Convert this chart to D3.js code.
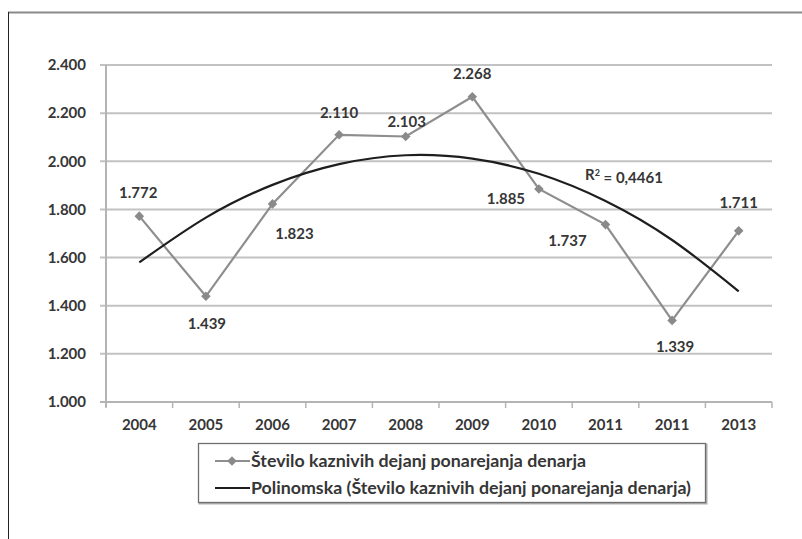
<!DOCTYPE html>
<html>
<head>
<meta charset="utf-8">
<script src="https://cdn.jsdelivr.net/npm/d3@7"></script>
<style>
  html, body { margin: 0; padding: 0; background: #ffffff; }
  svg { display: block; }
  text { font-family: Lato, "Liberation Sans", sans-serif; font-weight: 700; fill: #363636; }
</style>
</head>
<body>
<div id="chart"></div>
<script>
// ---- data ----
const categories = ["2004", "2005", "2006", "2007", "2008", "2009", "2010", "2011", "2011", "2013"];
const seriesValues = [1772, 1439, 1823, 2110, 2103, 2268, 1885, 1737, 1339, 1711];
const trendValues = [1580, 1766, 1902, 1988, 2025, 2011, 1948, 1835, 1673, 1460];
const yTicks = [1000, 1200, 1400, 1600, 1800, 2000, 2200, 2400];
const seriesName = "Število kaznivih dejanj ponarejanja denarja";
const trendName = "Polinomska (Število kaznivih dejanj ponarejanja denarja)";
const rSquared = "0,4461";
// label placement: [dx, dy] relative to point
const labelOffsets = [[-1, -23], [1, 27], [22, 30], [0, -22], [1, -15], [0, -23], [-33, 10], [-38, 16], [3, 26], [0, -28]];

const W = 802, H = 539;
const svg = d3.select("#chart").append("svg").attr("width", W).attr("height", H);

const loc = d3.formatLocale({ decimal: ",", thousands: ".", grouping: [3], currency: ["", ""] });
const fmt = loc.format(",");

const x = d3.scaleBand().domain(d3.range(categories.length)).range([106, 772]).padding(0);
const y = d3.scaleLinear().domain([1000, 2400]).range([402, 65]);
const cx = i => x(i) + x.bandwidth() / 2;

// outer frame
svg.append("line").attr("x1", 8).attr("x2", W).attr("y1", 12.5).attr("y2", 12.5)
  .attr("stroke", "#8a8a8a").attr("stroke-width", 2);
svg.append("line").attr("x1", 8.5).attr("x2", 8.5).attr("y1", 12).attr("y2", H)
  .attr("stroke", "#222").attr("stroke-width", 1);

// gridlines
svg.append("g").selectAll("line").data(yTicks).join("line")
  .attr("x1", 100).attr("x2", 772)
  .attr("y1", d => y(d)).attr("y2", d => y(d))
  .attr("stroke", "#c2c2c2").attr("stroke-width", 2);

// y axis
const yAxis = svg.append("g").attr("transform", "translate(106,0)")
  .call(d3.axisLeft(y).tickValues(yTicks).tickFormat(fmt).tickSize(0).tickPadding(20));
yAxis.select(".domain").remove();
yAxis.selectAll("text").style("font-size", "15px").attr("fill", "#363636");
svg.append("line").attr("x1", 106).attr("x2", 106).attr("y1", y(2400)).attr("y2", 407)
  .attr("stroke", "#b4b4b4").attr("stroke-width", 2);

// x axis
const xAxis = svg.append("g").attr("transform", "translate(0,402)")
  .call(d3.axisBottom(x).tickFormat(i => categories[i]).tickSize(0).tickPadding(17));
xAxis.select(".domain").remove();
xAxis.selectAll("text").style("font-size", "15px").attr("fill", "#363636");
svg.append("line").attr("x1", 100).attr("x2", 772).attr("y1", 402).attr("y2", 402)
  .attr("stroke", "#b4b4b4").attr("stroke-width", 2);
const bounds = d3.range(categories.length).map(i => x(i)).concat([x.range()[1]]);
svg.append("g").selectAll("line").data(bounds).join("line")
  .attr("x1", d => d).attr("x2", d => d).attr("y1", 402).attr("y2", 408)
  .attr("stroke", "#b4b4b4").attr("stroke-width", 1.5);

// series line
const line = d3.line().x((d, i) => cx(i)).y(d => y(d));
svg.append("path").datum(seriesValues).attr("d", line)
  .attr("fill", "none").attr("stroke", "#8e8e8e").attr("stroke-width", 2.2);

// trend line
const tline = d3.line().x((d, i) => cx(i)).y(d => y(d)).curve(d3.curveNatural);
svg.append("path").datum(trendValues).attr("d", tline)
  .attr("fill", "none").attr("stroke", "#1e1e1e").attr("stroke-width", 2.2);

// markers (square rotated 45deg = even diamond)
const diamond = d3.symbol().type(d3.symbolSquare).size(46);
svg.append("g").selectAll("path").data(seriesValues).join("path")
  .attr("d", diamond)
  .attr("transform", (d, i) => `translate(${cx(i)},${y(d)}) rotate(45)`)
  .attr("fill", "#8a8a8a");

// data labels
svg.append("g").selectAll("text").data(seriesValues).join("text")
  .attr("x", (d, i) => cx(i) + labelOffsets[i][0])
  .attr("y", (d, i) => y(d) + labelOffsets[i][1])
  .attr("dy", "0.35em")
  .attr("text-anchor", "middle")
  .style("font-size", "15px")
  .text(d => fmt(d));

// R squared
const r2 = svg.append("text").attr("x", 585).attr("y", 175).attr("dy", "0.35em").style("font-size", "15px");
r2.append("tspan").text("R");
r2.append("tspan").attr("dy", "-0.45em").style("font-size", "9px").text("2");
r2.append("tspan").attr("dy", "0.45em").text(" = " + rSquared);

// legend
const lg = svg.append("g");
lg.append("rect").attr("x", 199.5).attr("y", 444.5).attr("width", 507).attr("height", 59)
  .attr("fill", "none").attr("stroke", "#b0b0b0").attr("stroke-width", 2);
lg.append("rect").attr("x", 198.5).attr("y", 443.5).attr("width", 507).attr("height", 59)
  .attr("fill", "#fff").attr("stroke", "#6e6e6e").attr("stroke-width", 1.3);
lg.append("line").attr("x1", 215).attr("x2", 250).attr("y1", 461).attr("y2", 461)
  .attr("stroke", "#8e8e8e").attr("stroke-width", 2.2);
lg.append("path").attr("d", diamond).attr("transform", "translate(232,461) rotate(45)").attr("fill", "#8a8a8a");
lg.append("text").attr("x", 251).attr("y", 461).attr("dy", "0.35em").style("font-size", "17.8px").text(seriesName);
lg.append("line").attr("x1", 215).attr("x2", 250).attr("y1", 488).attr("y2", 488)
  .attr("stroke", "#1e1e1e").attr("stroke-width", 2.2);
lg.append("text").attr("x", 251).attr("y", 488).attr("dy", "0.35em").style("font-size", "17.8px").text(trendName);
</script>
</body>
</html>
